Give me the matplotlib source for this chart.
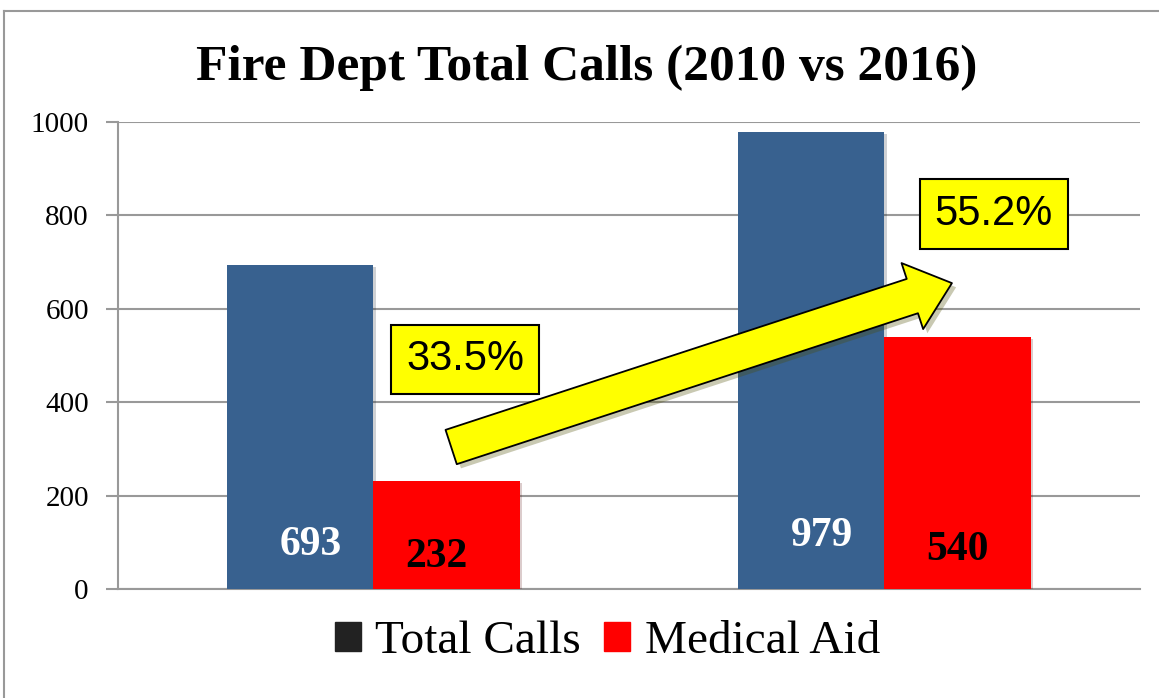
import matplotlib.pyplot as plt
import matplotlib.patheffects as pe
from matplotlib.lines import Line2D
from matplotlib.patches import Patch

years = ["2010", "2016"]
total_calls = [693, 979]
medical_aid = [232, 540]
pct_labels = ["33.5%", "55.2%"]

blue = "#38618f"
red = "#ff0000"
grey = "#999999"
serif = ["Liberation Serif", "DejaVu Serif"]
narrow = ["Liberation Sans Narrow", "Liberation Sans", "DejaVu Sans"]

fig = plt.figure(figsize=(11.59, 6.98), dpi=100)
ax = fig.add_axes([0.1018, 0.1562, 0.8818, 0.669])

width = 0.286
x = list(range(len(years)))
xb = [i - width / 2 for i in x]
xr = [i + width / 2 for i in x]
shadow = [pe.SimplePatchShadow(offset=(1.5, -1.5), alpha=0.2), pe.Normal()]
ax.bar(xb, total_calls, width, color=blue, zorder=3, path_effects=shadow)
ax.bar(xr, medical_aid, width, color=red, zorder=3, path_effects=shadow)

ax.set_xlim(-0.5, 1.5)
ax.set_ylim(0, 1000)
ax.set_yticks(range(0, 1001, 200))
ax.set_xticks([])
ax.yaxis.grid(True, color=grey, lw=1.5, zorder=0)
for s in ["top", "right"]:
    ax.spines[s].set_visible(False)
for s in ["left", "bottom"]:
    ax.spines[s].set_color(grey)
    ax.spines[s].set_linewidth(1.5)
ax.tick_params(axis="y", direction="out", length=9, width=1.5, color=grey,
               pad=12, labelsize=21)
for lab in ax.get_yticklabels():
    lab.set_fontfamily(serif)

# value labels inside the bars (heights tweaked by eye)
blue_label_y = [94, 113]
red_label_y = [68, 83]
for i in x:
    ax.text(xb[i] + 0.02, blue_label_y[i], str(total_calls[i]), color="white",
            fontsize=30, fontweight="bold", family=serif, ha="center",
            va="center", zorder=5)
    ax.text(xr[i] - 0.02 if i == 0 else xr[i], red_label_y[i], str(medical_aid[i]),
            color="black", fontsize=30, fontweight="bold", family=serif,
            ha="center", va="center", zorder=5)

# big yellow arrow
ax.annotate("", xy=(1.132, 655), xytext=(0.152, 304),
            arrowprops=dict(arrowstyle="simple,head_length=1.5,head_width=2.5,tail_width=1.3",
                            fc="yellow", ec="black", lw=1.3, mutation_scale=20,
                            shrinkA=0, shrinkB=0,
                            path_effects=[pe.SimplePatchShadow(offset=(3, -3), alpha=0.3),
                                          pe.Normal()]),
            zorder=6)

# percentage boxes
pct_pos = [(0.179, 492), (1.214, 803)]
for (px, py), t in zip(pct_pos, pct_labels):
    ax.text(px, py, t, fontsize=30, family=narrow, ha="center", va="center",
            zorder=7,
            bbox=dict(boxstyle="square,pad=0.35", fc="yellow", ec="black", lw=1.5))

fig.text(0.506, 0.903, "Fire Dept Total Calls (2010 vs 2016)", ha="center",
         va="center", fontsize=37, fontweight="bold", family=serif)

handles = [Patch(color="#222222"), Patch(color=red)]
fig.legend(handles, ["Total Calls", "Medical Aid"], loc="center",
           bbox_to_anchor=(0.524, 0.080), ncol=2, frameon=False,
           prop={"family": serif, "size": 34}, handlelength=0.55,
           handleheight=0.55, handletextpad=0.3, columnspacing=0.5)

# outer chart border (left and top edges visible)
fig.add_artist(Line2D([4 / 1159, 4 / 1159], [0, 1 - 11 / 698], color=grey, lw=1.5))
fig.add_artist(Line2D([4 / 1159, 1], [1 - 11 / 698, 1 - 11 / 698], color=grey, lw=1.5))

fig.savefig("out.png", dpi=100)
